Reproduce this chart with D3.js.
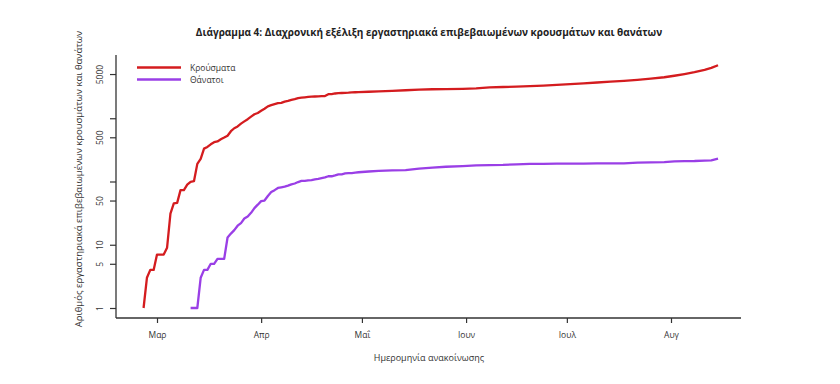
<!DOCTYPE html>
<html>
<head>
<meta charset="utf-8">
<script src="https://cdn.jsdelivr.net/npm/d3@7"></script>
<style>
  body { margin: 0; background: #fff; }
  svg { display: block; }
  text { font-family: "Open Sans", "Noto Sans", sans-serif; fill: #333; }
</style>
</head>
<body>
<script>
var width = 840, height = 384,
	plot = { left: 116, right: 741, top: 55, bottom: 318 };

// announcement dates (daily until end of April, then every few days)
var dates = [
	"2020-02-26","2020-02-27","2020-02-28","2020-02-29",
	"2020-03-01","2020-03-02","2020-03-03","2020-03-04","2020-03-05","2020-03-06","2020-03-07","2020-03-08","2020-03-09","2020-03-10",
	"2020-03-11","2020-03-12","2020-03-13","2020-03-14","2020-03-15","2020-03-16","2020-03-17","2020-03-18","2020-03-19","2020-03-20",
	"2020-03-21","2020-03-22","2020-03-23","2020-03-24","2020-03-25","2020-03-26","2020-03-27","2020-03-28","2020-03-29","2020-03-30","2020-03-31",
	"2020-04-01","2020-04-02","2020-04-03","2020-04-04","2020-04-05","2020-04-06","2020-04-07","2020-04-08","2020-04-09","2020-04-10",
	"2020-04-11","2020-04-12","2020-04-13","2020-04-14","2020-04-15","2020-04-16","2020-04-17","2020-04-18","2020-04-19","2020-04-20",
	"2020-04-21","2020-04-22","2020-04-23","2020-04-24","2020-04-25","2020-04-26","2020-04-27","2020-04-28","2020-04-29","2020-04-30",
	"2020-05-03","2020-05-06","2020-05-10","2020-05-14","2020-05-18","2020-05-22","2020-05-26","2020-05-31",
	"2020-06-04","2020-06-08","2020-06-12","2020-06-16","2020-06-20","2020-06-24","2020-06-28",
	"2020-07-02","2020-07-06","2020-07-10","2020-07-14","2020-07-18","2020-07-22","2020-07-26","2020-07-30",
	"2020-08-02","2020-08-05","2020-08-08","2020-08-11","2020-08-13","2020-08-15"
];

var cases = [
	1,3,4,4,
	7,7,7,9,31,45,46,73,73,89,
	99,101,190,228,331,352,387,418,430,464,
	495,530,624,695,743,821,892,966,1061,1156,1212,
	1314,1415,1544,1613,1673,1735,1755,1832,1884,1955,
	2011,2081,2114,2145,2170,2192,2207,2224,2235,2245,
	2401,2408,2463,2490,2506,2517,2534,2566,2576,2591,
	2626,2663,2716,2770,2836,2873,2892,2917,
	2967,3068,3121,3166,3227,3287,3376,
	3458,3560,3672,3790,3910,4050,4230,4450,
	4700,5000,5350,5800,6250,6900
];

var deaths = [
	null,null,null,null,
	null,null,null,null,null,null,null,null,null,null,
	1,1,1,3,4,4,5,5,6,6,
	6,13,15,17,20,22,26,28,32,38,43,
	49,50,59,68,73,79,81,83,86,90,
	93,98,102,102,104,105,108,110,113,116,
	121,121,125,130,130,134,136,136,138,140,
	144,147,150,151,160,166,171,175,
	180,182,183,187,190,190,191,
	192,192,193,193,194,199,201,203,
	208,210,211,214,216,230
];

var monthTicks = ["2020-03-01","2020-04-01","2020-05-01","2020-06-01","2020-07-01","2020-08-01"],
	monthLabels = ["Μαρ", "Απρ", "Μαΐ", "Ιουν", "Ιουλ", "Αυγ"],
	yTicks = [1, 5, 10, 50, 100, 500, 1000, 5000],
	yLabelled = [1, 5, 10, 50, 500, 5000];

var seriesNames = ["Κρούσματα", "Θάνατοι"],
	seriesColors = ["#d41c1f", "#9a3fe6"];

var parse = d3.timeParse("%Y-%m-%d");

var svg = d3.select("body").append("svg")
	.attr("width", width)
	.attr("height", height);

var x = d3.scaleTime()
	.domain([parse("2020-03-01"), parse("2020-08-01")])
	.range([157, 671]);

var y = d3.scaleLog()
	.domain([1, 10000])
	.range([308, 55]);

// title
svg.append("text")
	.attr("x", 429)
	.attr("y", 36)
	.attr("text-anchor", "middle")
	.style("font-weight", "bold")
	.style("font-size", "10px")
	.style("fill", "#222")
	.text("Διάγραμμα 4: Διαχρονική εξέλιξη εργαστηριακά επιβεβαιωμένων κρουσμάτων και θανάτων");

// x axis
var xAxis = d3.axisBottom(x)
	.tickValues(monthTicks.map(parse))
	.tickFormat(function(d, i) { return monthLabels[i]; })
	.tickSize(5)
	.tickPadding(9);

var gx = svg.append("g")
	.attr("transform", "translate(0," + plot.bottom + ")")
	.call(xAxis);
gx.select(".domain").remove();
gx.selectAll("line").attr("stroke", "#333").attr("stroke-width", 1.2);
gx.selectAll("text").style("font-size", "8.5px").style("font-family", null);

gx.append("line")
	.attr("x1", plot.left).attr("x2", plot.right)
	.attr("stroke", "#333").attr("stroke-width", 1.3);

// y axis
var yAxis = d3.axisLeft(y)
	.tickValues(yTicks)
	.tickFormat(function(d) { return yLabelled.indexOf(d) >= 0 ? d : ""; })
	.tickSize(6);

var gy = svg.append("g")
	.attr("transform", "translate(" + plot.left + ",0)")
	.call(yAxis);
gy.select(".domain").remove();
gy.selectAll("line").attr("stroke", "#333").attr("stroke-width", 1.2);
gy.selectAll(".tick text")
	.attr("x", null).attr("dy", null)
	.attr("transform", "translate(-13,0) rotate(-90)")
	.attr("text-anchor", "middle")
	.style("font-size", "8.5px")
	.style("font-family", null);

gy.append("line")
	.attr("y1", plot.top).attr("y2", plot.bottom)
	.attr("stroke", "#333").attr("stroke-width", 1.3);

// axis titles
svg.append("text")
	.attr("x", 429)
	.attr("y", 361)
	.attr("text-anchor", "middle")
	.style("font-size", "9px")
	.text("Ημερομηνία ανακοίνωσης");

svg.append("text")
	.attr("transform", "translate(82,179) rotate(-90)")
	.attr("text-anchor", "middle")
	.style("font-size", "9.5px")
	.text("Αριθμός εργαστηριακά επιβεβαιωμένων κρουσμάτων και θανάτων");

// lines
var values = [cases, deaths];

var line = d3.line()
	.defined(function(d) { return d.v != null; })
	.x(function(d) { return x(d.date); })
	.y(function(d) { return y(d.v); });

values.forEach(function(vals, s) {
	var pts = dates.map(function(d, i) { return { date: parse(d), v: vals[i] }; });
	svg.append("path")
		.datum(pts)
		.attr("fill", "none")
		.attr("stroke", seriesColors[s])
		.attr("stroke-width", 2.3)
		.attr("stroke-linejoin", "round")
		.attr("d", line);
});

// legend
var legend = svg.selectAll(".legend")
	.data(seriesNames)
	.enter().append("g")
	.attr("class", "legend")
	.attr("transform", function(d, i) { return "translate(137," + (67.5 + i * 12) + ")"; });

legend.append("line")
	.attr("x1", 0).attr("x2", 44)
	.attr("stroke", function(d, i) { return seriesColors[i]; })
	.attr("stroke-width", 2.3);

legend.append("text")
	.attr("x", 53)
	.attr("y", 3)
	.style("font-size", "8.5px")
	.text(function(d) { return d; });
</script>
</body>
</html>
